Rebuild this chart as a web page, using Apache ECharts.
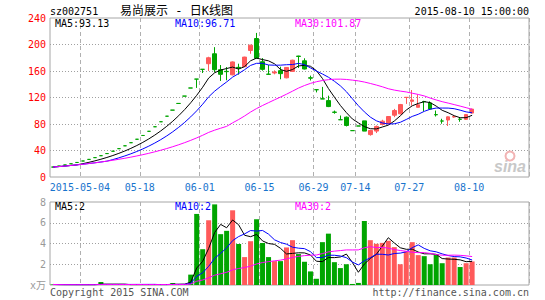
<!DOCTYPE html>
<html><head><meta charset="utf-8">
<script src="https://cdn.jsdelivr.net/npm/echarts@6/dist/echarts.min.js"></script>
<style>html,body{margin:0;padding:0;background:#fff}#c{width:545px;height:300px}</style>
</head><body><div id="c"></div>
<script>
// ---- data ----
const dates = [
 '2015-04-24','2015-04-27','2015-04-28','2015-04-29','2015-04-30',
 '2015-05-04','2015-05-05','2015-05-06','2015-05-07','2015-05-08',
 '2015-05-11','2015-05-12','2015-05-13','2015-05-14','2015-05-15',
 '2015-05-18','2015-05-19','2015-05-20','2015-05-21','2015-05-22',
 '2015-05-25','2015-05-26','2015-05-27','2015-05-28','2015-05-29',
 '2015-06-01','2015-06-02','2015-06-03','2015-06-04','2015-06-05',
 '2015-06-08','2015-06-09','2015-06-10','2015-06-11','2015-06-12',
 '2015-06-15','2015-06-16','2015-06-17','2015-06-18','2015-06-19',
 '2015-06-23','2015-06-24','2015-06-25','2015-06-26','2015-06-29',
 '2015-06-30','2015-07-01','2015-07-02','2015-07-03','2015-07-06',
 '2015-07-07','2015-07-14','2015-07-15','2015-07-16','2015-07-17',
 '2015-07-20','2015-07-21','2015-07-22','2015-07-23','2015-07-24',
 '2015-07-27','2015-07-28','2015-07-29','2015-07-30','2015-07-31',
 '2015-08-03','2015-08-04','2015-08-05','2015-08-06','2015-08-07',
 '2015-08-10'];
const openP = [14.99,16.49,18.14,19.95,21.95,24.15,26.57,29.23,32.15,35.37,
 38.91,42.80,47.08,51.79,56.97,62.67,68.94,75.83,83.41,91.75,
 100.93,111.02,122.12,134.33,147.76,162.54,171.0,186.0,162.0,159.5,
 154.2,165.5,166.5,191.0,209.0,174.0,155.3,157.0,160.5,149.7,
 159.4,182.5,175.4,149.8,131.8,118.0,115.3,98.0,86.5,90.3,
 70.0,77.0,84.7,64.0,69.3,79.3,80.4,93.3,95.4,120.1,
 114.2,105.2,114.0,111.8,94.2,84.6,86.0,90.5,87.3,87.0,96.5];
const closeP = [14.99,16.49,18.14,19.95,21.95,24.15,26.57,29.23,32.15,35.37,
 38.91,42.80,47.08,51.79,56.97,62.67,68.94,75.83,83.41,91.75,
 100.93,111.02,122.12,134.33,147.76,162.54,180.0,162.0,155.0,159.0,
 173.7,164.5,181.0,199.0,179.2,162.5,155.0,158.5,156.0,165.4,
 176.3,182.0,163.0,149.2,131.7,117.8,106.3,97.6,86.4,77.8,
 70.0,77.0,69.3,70.3,76.3,84.3,91.3,100.3,109.3,120.2,
 116.3,109.0,113.5,102.5,93.9,84.4,90.8,91.2,87.0,94.2,102.5];
const lowP = [14.99,16.49,18.14,19.95,21.95,24.15,26.57,29.23,32.15,35.37,
 38.91,42.80,47.08,51.79,56.97,62.67,68.94,75.83,83.41,91.75,
 100.93,111.02,122.12,134.33,134.5,157.0,160.0,158.0,145.0,146.0,
 153.5,154.5,166.0,186.0,179.0,160.5,154.5,155.0,147.5,149.0,
 158.5,164.5,162.4,145.7,127.7,117.8,105.5,95.5,86.4,76.3,
 70.0,77.0,69.3,62.4,66.3,77.8,80.0,90.3,94.5,110.3,
 107.8,105.0,99.0,101.3,91.3,80.4,77.0,89.4,83.4,86.5,96.0];
const highP = [14.99,16.49,18.14,19.95,21.95,24.15,26.57,29.23,32.15,35.37,
 38.91,42.80,47.08,51.79,56.97,62.67,68.94,75.83,83.41,91.75,
 100.93,111.02,122.12,134.33,147.76,162.54,181.5,196.0,169.0,166.0,
 174.5,171.0,181.5,199.5,217.5,179.5,169.0,161.0,166.5,166.0,
 177.0,183.0,179.2,153.0,132.0,136.0,122.8,100.3,92.8,91.3,
 70.0,77.0,84.7,70.5,77.8,86.4,92.0,102.8,110.3,120.2,
 131.3,124.5,115.0,114.2,100.3,87.9,91.3,92.8,89.4,94.8,103.0];
const volume = [0.05,0.02,0.02,0.02,0.02,0.03,0.03,0.03,0.29,0.03,
 0.03,0.03,0.03,0.03,0.03,0.04,0.04,0.04,0.04,0.05,
 0.19,0.05,0.08,1.0,6.85,3.45,6.24,7.77,4.9,5.22,
 7.2,3.95,2.69,4.22,6.33,4.05,2.69,2.3,2.3,3.62,
 4.32,2.98,2.24,1.31,0.6,4.13,4.95,2.2,1.63,2.0,
 0.1,0.2,6.17,4.32,3.97,4.06,4.26,3.65,2.0,3.23,
 4.13,2.88,2.78,2.0,2.98,2.1,2.65,2.65,1.73,2.1,2.27];
const tickDates = ['2015-05-04','2015-05-18','2015-06-01','2015-06-15','2015-06-29','2015-07-14','2015-07-27','2015-08-10'];
const tickLabels = ['2015-05-04','05-18','06-01','06-15','06-29','07-14','07-27','08-10'];
const priceTicks = [0,40,80,120,160,200,240];
const volTicks = [0,2,4,6,8];
const maLabels = ['MA5:93.13','MA10:96.71','MA30:101.87'];
const volMaLabels = ['MA5:2','MA10:2','MA30:2'];
const maPeriods = [5,10,30];

// ---- styling ----
const MONO = "'DejaVu Sans Mono', monospace";
const CJK = "'DejaVu Sans Mono', 'Noto Sans CJK SC', sans-serif";
const RED = '#ff5a5a', GREEN = '#00a500';
const MA_COLORS = ['#000000', '#0000ff', '#ff00ff'];
const SLOTS = 80;

const cats = dates.slice();
for (let k = dates.length; k < SLOTS; k++) cats.push('pad' + k);
const tickIdx = tickDates.map(d => dates.indexOf(d));
const isTick = (i) => tickIdx.indexOf(i) >= 0;

function movingAvg(src, n) {
  return src.map((_, i) => {
    const s = Math.max(0, i - n + 1);
    let sum = 0;
    for (let k = s; k <= i; k++) sum += src[k];
    return +(sum / (i - s + 1)).toFixed(3);
  });
}
const colorOf = (i) => closeP[i] > openP[i] ? RED : GREEN;

const candleData = dates.map((d, i) => {
  const c = colorOf(i);
  return { value: [openP[i], closeP[i], lowP[i], highP[i]],
    itemStyle: { color: c, color0: c, borderColor: c, borderColor0: c, borderColorDoji: c } };
});
const volData = volume.map((v, i) => ({ value: v, itemStyle: { color: colorOf(i) } }));

const gridBase = { left: 50, width: 479, show: true, borderColor: '#a6a6a6', borderWidth: 1, backgroundColor: '#fff' };
function xAxisFor(gi, showLabel) {
  return {
    type: 'category', gridIndex: gi, data: cats, boundaryGap: true,
    axisLine: { show: false }, axisTick: { show: false },
    axisLabel: showLabel ? {
      interval: (i) => isTick(i),
      formatter: (v, i) => tickLabels[tickIdx.indexOf(i)] || '',
      color: '#1874cd', fontFamily: MONO, fontSize: 10, margin: 5, padding: [0, 6, 0, 0]
    } : { show: false },
    splitLine: { show: true, interval: (i) => isTick(i),
      lineStyle: { color: '#b0b0b0', type: [4, 3], width: 1 } }
  };
}

const series = [{
  type: 'candlestick', xAxisIndex: 0, yAxisIndex: 0, data: candleData,
  barWidth: 4, itemStyle: { borderWidth: 1 }, z: 2
}];
maPeriods.forEach((p, k) => series.push({
  type: 'line', xAxisIndex: 0, yAxisIndex: 0, data: movingAvg(closeP, p),
  symbol: 'none', lineStyle: { width: 1, color: MA_COLORS[k] }, z: 3 + k, silent: true
}));
series.push({ type: 'bar', xAxisIndex: 1, yAxisIndex: 1, data: volData, barWidth: 5, z: 2 });
maPeriods.forEach((p, k) => series.push({
  type: 'line', xAxisIndex: 1, yAxisIndex: 1, data: movingAvg(volume, p),
  symbol: 'none', lineStyle: { width: 1, color: MA_COLORS[k] }, z: 3 + k, silent: true
}));

function txt(x, y, text, fill, font, align) {
  return { type: 'text', x: x, y: y, z: 100,
    style: { text: text, fill: fill, font: font, align: align || 'left', verticalAlign: 'middle' } };
}
const maX = [55, 175, 295];
const graphics = [
  txt(50, 11, 'sz002751', '#000', '10px ' + MONO),
  txt(120, 11, '易尚展示 - 日K线图', '#000', '12px ' + CJK),
  txt(529, 11.5, '2015-08-10 15:00:00', '#000', '10px ' + MONO, 'right'),
  txt(50, 292, 'Copyright 2015 SINA.COM', '#555', '10px ' + MONO),
  txt(529, 292, 'http://finance.sina.com.cn', '#555', '10px ' + MONO, 'right'),
  { type: 'text', x: 494, y: 166, z: 1,
    style: { text: 'sina', fill: '#c8c8c8', font: 'italic bold 16px Arial, sans-serif', align: 'left', verticalAlign: 'middle' } },
  { type: 'circle', shape: { cx: 510, cy: 156, r: 4.5 }, z: 1,
    style: { fill: 'none', stroke: '#f2b4b4', lineWidth: 2 } }
];
maLabels.forEach((t, k) => graphics.push(txt(maX[k], 23.5, t, MA_COLORS[k], '10px ' + MONO)));
volMaLabels.forEach((t, k) => graphics.push(txt(maX[k], 206, t, MA_COLORS[k], '10px ' + MONO)));

const option = {
  animation: false,
  backgroundColor: '#fff',
  grid: [ Object.assign({ top: 18, height: 159 }, gridBase), Object.assign({ top: 202, height: 83 }, gridBase) ],
  xAxis: [ xAxisFor(0, true), xAxisFor(1, false) ],
  yAxis: [
    { type: 'value', gridIndex: 0, min: priceTicks[0], max: priceTicks[priceTicks.length - 1], interval: 40,
      axisLine: { show: false }, axisTick: { show: false },
      axisLabel: { color: '#ff0000', fontFamily: MONO, fontSize: 10, margin: 4 },
      splitLine: { show: true, showMinLine: false, showMaxLine: false, lineStyle: { color: '#a0a0a0', type: [1, 2] } } },
    { type: 'value', gridIndex: 1, min: volTicks[0], max: volTicks[volTicks.length - 1], interval: 2,
      axisLine: { show: false }, axisTick: { show: false },
      axisLabel: { color: '#999', fontFamily: CJK, fontSize: 10, margin: 4,
        formatter: (v) => v === 0 ? 'x万' : String(v) },
      splitLine: { show: true, showMinLine: false, showMaxLine: false, lineStyle: { color: '#a0a0a0', type: [1, 2] } } }
  ],
  graphic: graphics,
  series: series
};
const chart = echarts.init(document.getElementById('c'), null, { renderer: 'svg' });
chart.setOption(option);
</script>
</body></html>
